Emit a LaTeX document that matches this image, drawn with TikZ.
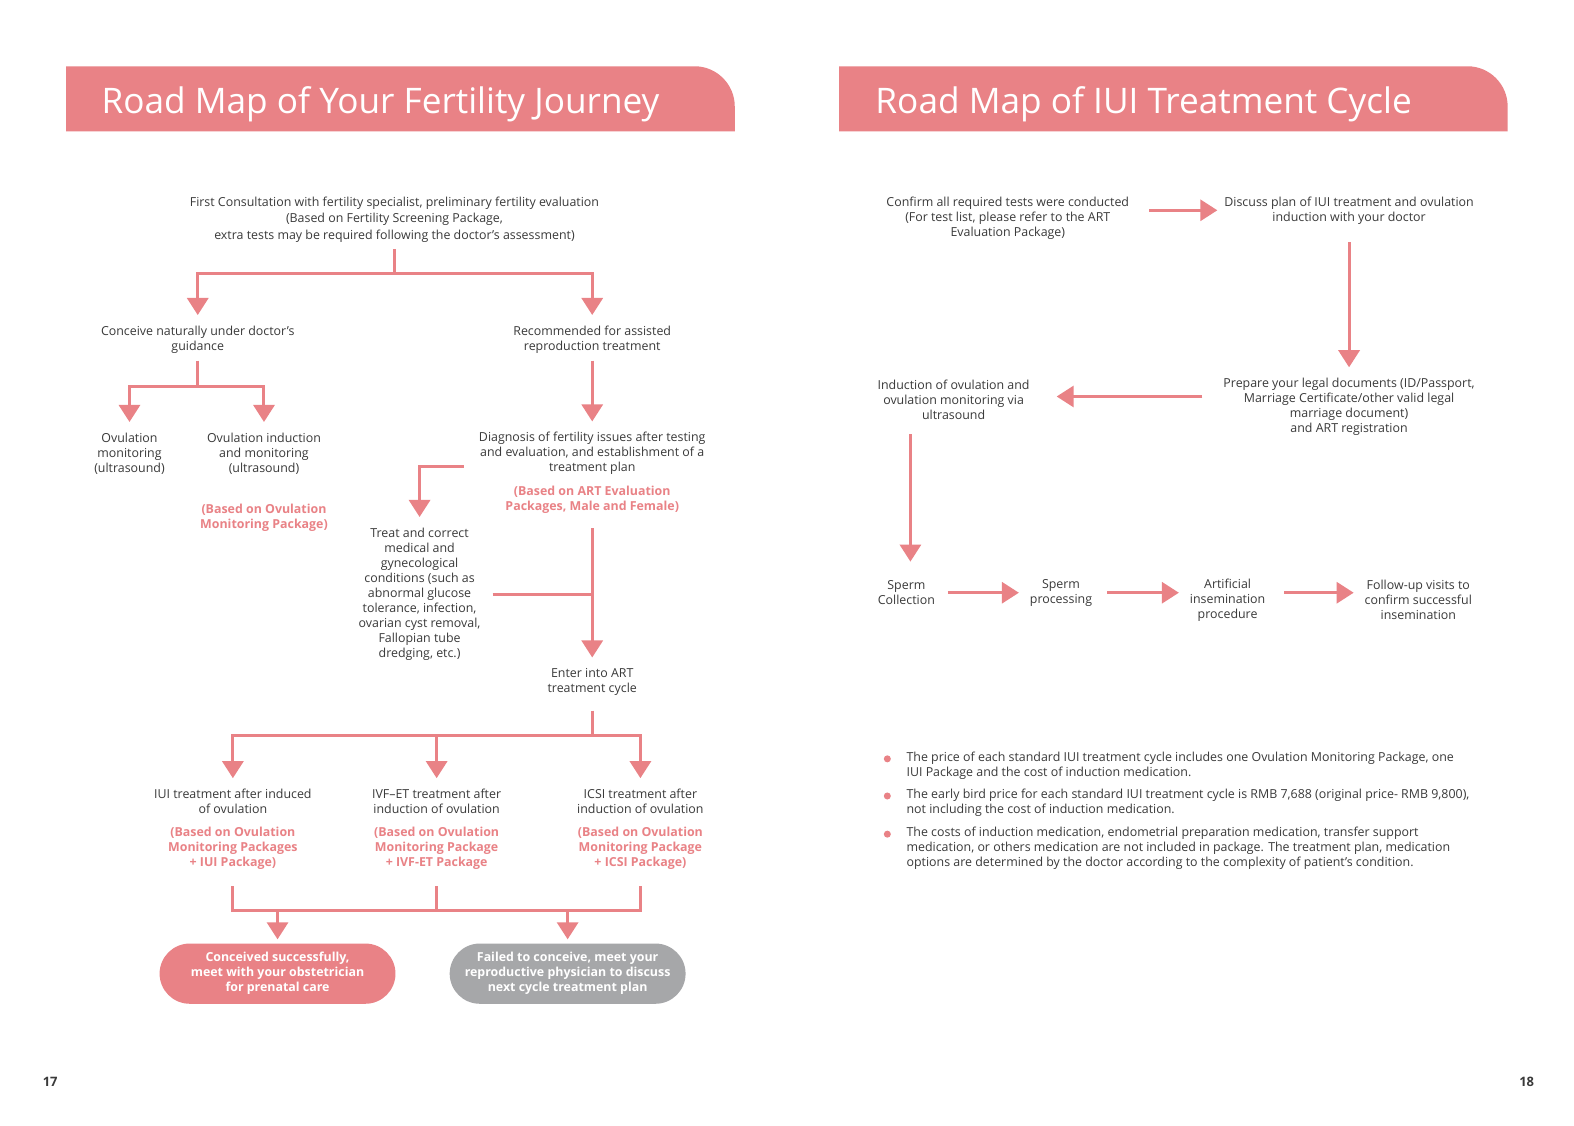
\documentclass[tikz,border=0pt]{standalone}
\usepackage{fontspec}
\setmainfont{Open Sans}
\usetikzlibrary{arrows.meta, positioning}
\definecolor{rose}{HTML}{E98286}
\definecolor{slate}{HTML}{A6A7A9}
\definecolor{ink}{HTML}{3A3A3A}

\begin{document}
\begin{tikzpicture}[
    x=1bp, y=-1bp,
    every node/.style={inner sep=0pt},
    txt/.style={align=center, text=ink, font=\fontsize{12.4}{15}\selectfont, outer sep=7bp},
    pkg/.style={txt, text=rose, font=\fontsize{12.4}{15}\selectfont\bfseries},
    note/.style={align=left, anchor=west, text=ink, font=\fontsize{12.4}{15}\selectfont},
    dot/.style={circle, fill=rose, minimum size=7bp},
    pill/.style={fill=#1, rounded corners=30bp, minimum width=235bp, minimum height=60bp,
        align=center, text=white, font=\fontsize{12.4}{15}\selectfont\bfseries},
    link/.style={draw=rose, line width=3bp},
    flow/.style={link, -{Triangle[width=21bp,length=17bp]}, shorten >=4bp},
    title/.style={anchor=base west, text=white, font=\fontsize{35.2}{40}\selectfont},
    pagenum/.style={text=ink, font=\fontsize{13}{15}\selectfont\bfseries}
]

\useasboundingbox (0,0) rectangle (1568.1,1120.8);
\fill[white] (0,0) rectangle (1568.1,1120.8);

\fill[rose] (66,131) -- (66,66) -- (692,66) .. controls (714,66) and (732,84) .. (732,106) -- (732,131) -- cycle;
\fill[rose] (836,131) -- (836,66) -- (1462,66) .. controls (1484,66) and (1502,84) .. (1502,106) -- (1502,131) -- cycle;
\node[title] (title1) at (101,113) {Road Map of Your Fertility Journey};
\node[title] (title2) at (872,113) {Road Map of IUI Treatment Cycle};

\node[txt, font=\fontsize{12.4}{16.5}\selectfont] (consult) at (393,218.5) {First Consultation with fertility specialist, preliminary fertility evaluation\\(Based on Fertility Screening Package,\\extra tests may be required following the doctor’s assessment)};
\node[txt] (natural) at (197,338.5) {Conceive naturally under doctor’s\\guidance};
\node[txt] (assisted) at (590,338.5) {Recommended for assisted\\reproduction treatment};
\node[txt] (ovmon) at (129,452) {Ovulation\\monitoring\\(ultrasound)};
\node[txt] (ovind) at (263,452) {Ovulation induction\\and monitoring\\(ultrasound)};
\node[pkg] (ovindpkg) at (263,515.5) {(Based on Ovulation\\Monitoring Package)};
\node[txt] (diag) at (590,452) {Diagnosis of fertility issues after testing\\and evaluation, and establishment of a\\treatment plan};
\node[pkg] (diagpkg) at (590,497.5) {(Based on ART Evaluation\\Packages, Male and Female)};
\node[txt] (treat) at (418,592) {Treat and correct\\medical and\\gynecological\\conditions (such as\\abnormal glucose\\tolerance, infection,\\ovarian cyst removal,\\Fallopian tube\\dredging, etc.)};
\node[txt] (enter) at (590,679.5) {Enter into ART\\treatment cycle};
\node[txt] (iui) at (232,798.5) {IUI treatment after induced\\of ovulation};
\node[pkg] (iuipkg) at (232,845) {(Based on Ovulation\\Monitoring Packages\\+ IUI Package)};
\node[txt] (ivf) at (435,798.5) {IVF–ET treatment after\\induction of ovulation};
\node[pkg] (ivfpkg) at (435,845) {(Based on Ovulation\\Monitoring Package\\+ IVF-ET Package};
\node[txt] (icsi) at (638,798.5) {ICSI treatment after\\induction of ovulation};
\node[pkg] (icsipkg) at (638,845) {(Based on Ovulation\\Monitoring Package\\+ ICSI Package)};
\node[pill=rose] (success) at (276.5,970) {Conceived successfully,\\meet with your obstetrician\\for prenatal care};
\node[pill=slate] (fail) at (565.5,970) {Failed to conceive, meet your\\reproductive physician to discuss\\next cycle treatment plan};

\coordinate (split1) at (393,272);
\coordinate (split2) at (197,385);
\coordinate (split3) at (590,733);
\coordinate (merge) at (435,907);

\draw[flow] (consult.south) -- (split1) -| (natural.north);
\draw[flow] (split1) -| (assisted.north);
\draw[flow] (natural.south) -- (split2) -| (ovmon.north);
\draw[flow] (split2) -| (ovind.north);
\draw[flow] (assisted) -- (diag);
\draw[flow] ([shift={(-8bp,-13bp)}]diag.west) -| (treat.north);
\draw[flow, shorten <=8bp] (diagpkg) -- (enter);
\draw[link, shorten <=5bp] (treat.east) -- (treat.east -| enter);
\draw[flow, shorten <=8bp] (enter.south) -- (split3) -| (iui.north);
\draw[flow] (split3) -| (ivf.north);
\draw[flow] (split3) -| (icsi.north);
\draw[link, shorten <=10bp, shorten >=10bp] (iuipkg.south) |- (merge) -| (icsipkg.south);
\draw[link, shorten <=10bp] (ivfpkg.south) -- (merge);
\draw[flow] (success.north |- merge) -- (success.north);
\draw[flow] (fail.north |- merge) -- (fail.north);

\node[txt] (confirm) at (1004,217) {Confirm all required tests were conducted\\(For test list, please refer to the ART\\Evaluation Package)};
\node[txt] (discuss) at (1344,209.5) {Discuss plan of IUI treatment and ovulation\\induction with your doctor};
\node[txt] (prepare) at (1344,405.5) {Prepare your legal documents (ID/Passport,\\Marriage Certificate/other valid legal\\marriage document)\\and ART registration};
\node[txt] (induct) at (950,398) {Induction of ovulation and\\ovulation monitoring via\\ultrasound};
\node[txt] (collect) at (903,590.5) {Sperm\\Collection};
\node[txt] (process) at (1057,590.5) {Sperm\\processing};
\node[txt] (insem) at (1223,598) {Artificial\\insemination\\procedure};
\node[txt] (follow) at (1413,598) {Follow-up visits to\\confirm successful\\insemination};

\draw[flow, shorten <=13bp, shorten >=0bp] (confirm.east |- discuss) -- (discuss.west);
\draw[flow, shorten <=11bp] (discuss) -- (prepare);
\draw[flow, shorten <=14bp, shorten >=20bp] ([yshift=3bp]prepare.west |- induct) -- ([yshift=3bp]induct.east);
\draw[flow, shorten <=8bp, shorten >=12bp] ([xshift=4bp]induct.south -| collect) -- ([xshift=4bp]collect.north);
\draw[flow, shorten <=6bp] (collect) -- (process);
\draw[flow, shorten <=8bp] (process) -- (insem.west |- process);
\draw[flow, shorten <=12bp] (insem.east |- process) -- (follow.west |- process);

\node[dot] (dot1) at (884,756) {};
\node[dot] (dot2) at (884,793) {};
\node[dot] (dot3) at (884,831) {};
\node[note] (note1) at (903,762.5) {The price of each standard IUI treatment cycle includes one Ovulation Monitoring Package, one\\IUI Package and the cost of induction medication.};
\node[note] (note2) at (903,799.5) {The early bird price for each standard IUI treatment cycle is RMB 7,688 (original price- RMB 9,800),\\not including the cost of induction medication.};
\node[note] (note3) at (903,845) {The costs of induction medication, endometrial preparation medication, transfer support\\medication, or others medication are not included in package. The treatment plan, medication\\options are determined by the doctor according to the complexity of patient’s condition.};

\node[pagenum] (page17) at (50,1078) {17};
\node[pagenum] (page18) at (1521,1078) {18};

\end{tikzpicture}
\end{document}
